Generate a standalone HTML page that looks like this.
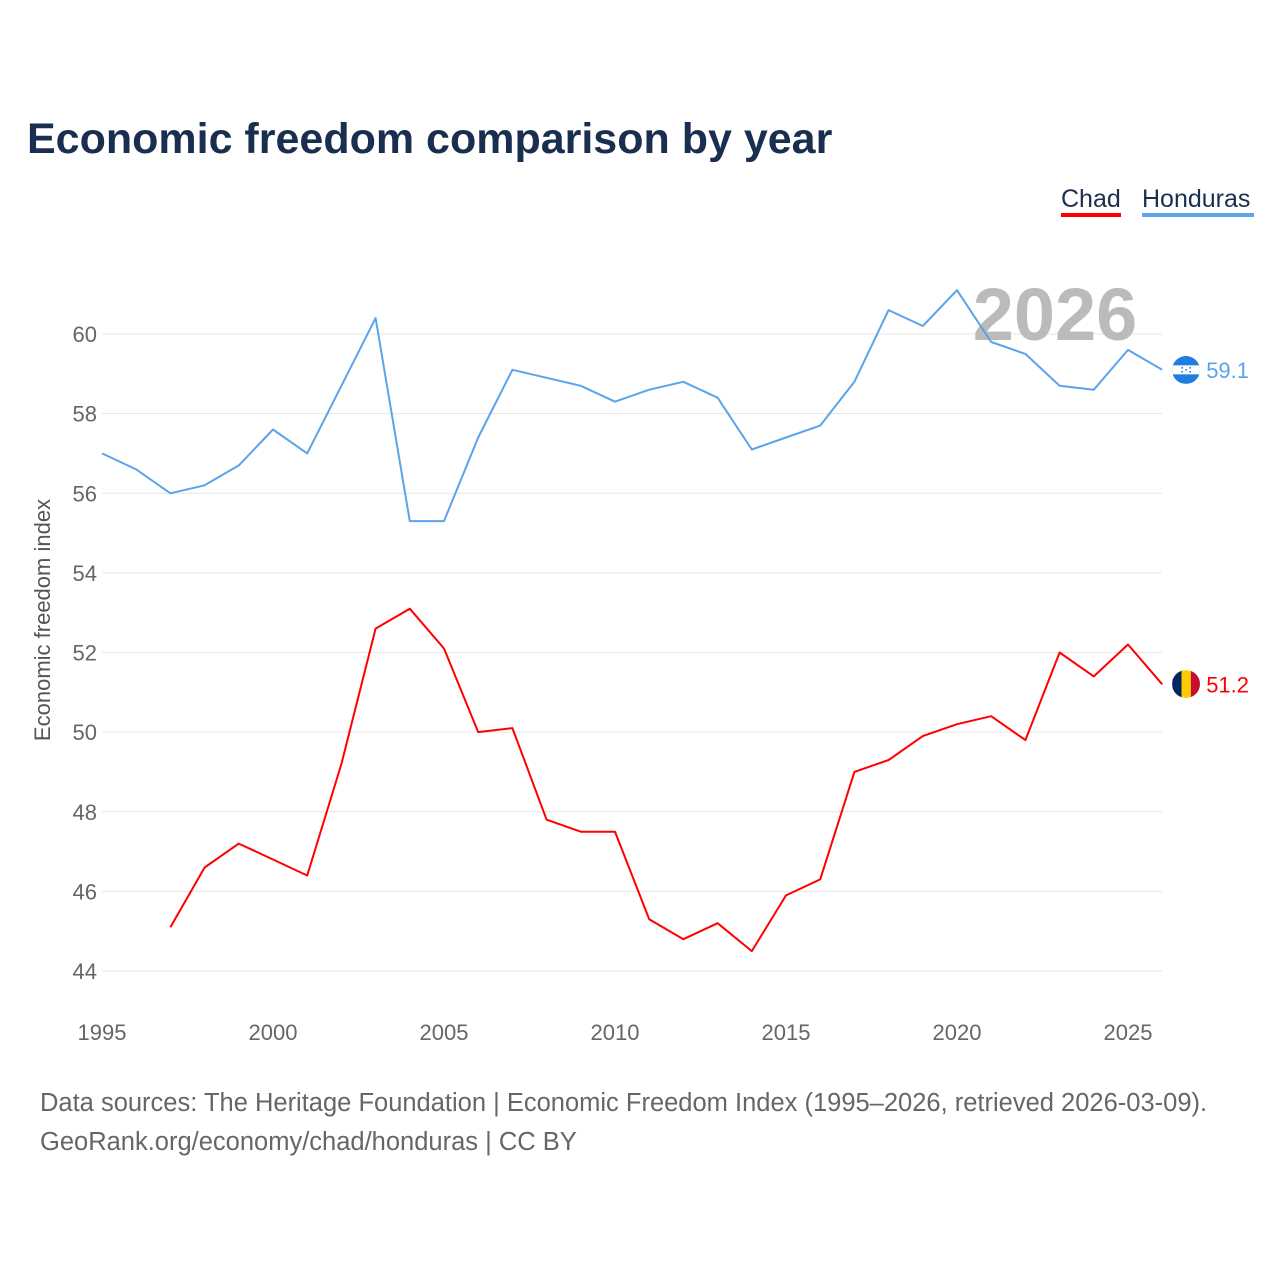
<!DOCTYPE html>
<html><head><meta charset="utf-8">
<style>
body{margin:0;background:#fff;font-family:"Liberation Sans",sans-serif;}
svg{display:block}
</style></head>
<body>
<svg id="chart" width="1280" height="1280" xmlns="http://www.w3.org/2000/svg">
<defs>
<clipPath id="clipH"><circle cx="1186" cy="370" r="14"/></clipPath>
<clipPath id="clipC"><circle cx="1186" cy="684" r="14"/></clipPath>
</defs>
<rect width="1280" height="1280" fill="#fff"/>
<text x="27" y="153" font-size="43" font-weight="bold" fill="#1a2e4f">Economic freedom comparison by year</text>
<g>
<text x="1061" y="207" font-size="25" fill="#1a2e4f">Chad</text>
<rect x="1061" y="213" width="60" height="4" fill="#ff0000"/>
<text x="1142" y="207" font-size="25" fill="#1a2e4f">Honduras</text>
<rect x="1142" y="213" width="112" height="4" fill="#5ba3ea"/>
</g>
<g id="grid"></g>
<text x="1055" y="340" font-size="74" font-weight="bold" fill="#bbbbbb" text-anchor="middle">2026</text>
<g id="series"></g>
<text transform="translate(50,620) rotate(-90)" font-size="22" fill="#555" text-anchor="middle">Economic freedom index</text>
<text x="40" y="1111" font-size="25.5" fill="#666">Data sources: The Heritage Foundation | Economic Freedom Index (1995–2026, retrieved 2026-03-09).</text>
<text x="40" y="1150" font-size="25.5" fill="#666">GeoRank.org/economy/chad/honduras | CC BY</text>
</svg>
<script>
const years=[1995,1996,1997,1998,1999,2000,2001,2002,2003,2004,2005,2006,2007,2008,2009,2010,2011,2012,2013,2014,2015,2016,2017,2018,2019,2020,2021,2022,2023,2024,2025,2026];
const honduras=[57.0,56.6,56.0,56.2,56.7,57.6,57.0,58.7,60.4,55.3,55.3,57.4,59.1,58.9,58.7,58.3,58.6,58.8,58.4,57.1,57.4,57.7,58.8,60.6,60.2,61.1,59.8,59.5,58.7,58.6,59.6,59.1];
const chad=[null,null,45.1,46.6,47.2,46.8,46.4,49.2,52.6,53.1,52.1,50.0,50.1,47.8,47.5,47.5,45.3,44.8,45.2,44.5,45.9,46.3,49.0,49.3,49.9,50.2,50.4,49.8,52.0,51.4,52.2,51.2];
const yTicks=[44,46,48,50,52,54,56,58,60];
const xTicks=[1995,2000,2005,2010,2015,2020,2025];
const NS="http://www.w3.org/2000/svg";
const X=v=>102+(v-1995)*(1128-102)/30;
const Y=v=>971-(v-44)*(971-334)/16;
const svg=document.getElementById('chart'),grid=document.getElementById('grid'),ser=document.getElementById('series');
function mk(tag,attrs,parent){const e=document.createElementNS(NS,tag);for(const k in attrs)e.setAttribute(k,attrs[k]);parent.appendChild(e);return e;}
yTicks.forEach(t=>{
  const l=mk('line',{x1:102,x2:1162,y1:Y(t),y2:Y(t),stroke:'#e6e6e6','stroke-width':1},grid);
  
  
  const tx=mk('text',{x:97,y:Y(t)+8,'font-size':22,fill:'#666','text-anchor':'end'},grid);
  tx.textContent=t;
  
  
});
xTicks.forEach(t=>{
  const tx=mk('text',{x:X(t),y:1040,'font-size':22,fill:'#666','text-anchor':'middle'},grid);
  tx.textContent=t;
  
  
});
function line(vals,color,name,flag){
  let d='';vals.forEach((v,i)=>{if(v==null)return;d+=(d?'L':'M')+X(years[i]).toFixed(1)+','+Y(v).toFixed(1);});
  const p=mk('path',{d:d,fill:'none',stroke:color,'stroke-width':2,'stroke-linejoin':'round'},ser);
  
  
  const last=vals[vals.length-1],cx=X(years[years.length-1])+24,cy=Y(last);
  const g=mk('g',{},ser);
  
  
  flag(g,cx,cy);
  const t=mk('text',{x:cx+20,y:cy+8,'font-size':22,fill:color},ser);
  t.textContent=last.toFixed(1);
  
  
}
line(honduras,'#5ba3ea','honduras',(g,cx,cy)=>{
  g.setAttribute('clip-path','url(#clipH)');
  mk('rect',{x:cx-14,y:cy-14,width:28,height:28,fill:'#1e7fe0'},g);
  mk('rect',{x:cx-14,y:cy-4.5,width:28,height:9,fill:'#fff'},g);
  [[-4,-2],[4,-2],[0,0],[-4,2],[4,2]].forEach(o=>mk('circle',{cx:cx+o[0],cy:cy+o[1],r:0.9,fill:'#1e7fe0'},g));
});
line(chad,'#ff0000','chad',(g,cx,cy)=>{
  g.setAttribute('clip-path','url(#clipC)');
  mk('rect',{x:cx-14,y:cy-14,width:9.5,height:28,fill:'#002664'},g);
  mk('rect',{x:cx-4.7,y:cy-14,width:9.5,height:28,fill:'#fecb00'},g);
  mk('rect',{x:cx+4.7,y:cy-14,width:9.5,height:28,fill:'#c60c30'},g);
});
</script>
</body></html>
